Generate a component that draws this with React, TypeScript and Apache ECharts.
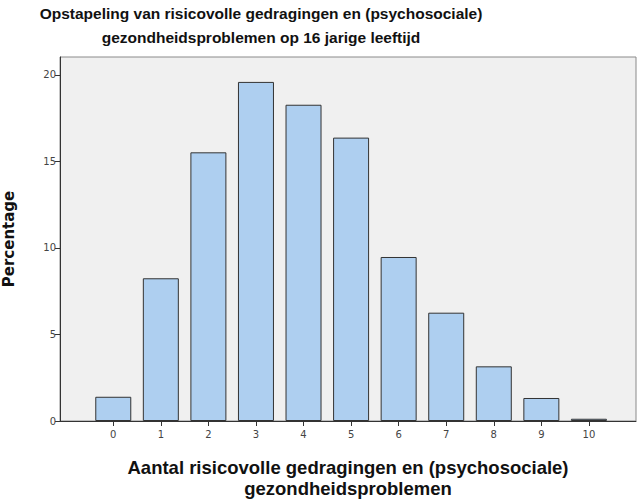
import React, { useEffect, useRef } from "react";
import * as echarts from "echarts";

const categories: number[] = [0, 1, 2, 3, 4, 5, 6, 7, 8, 9, 10];
const percentages: number[] = [1.4, 8.25, 15.53, 19.6, 18.28, 16.38, 9.48, 6.26, 3.16, 1.33, 0.13];
const yTicks: number[] = [0, 5, 10, 15, 20];

const titleText = "Opstapeling van risicovolle gedragingen en (psychosociale)\ngezondheidsproblemen op 16 jarige leeftijd";
const xName = "Aantal risicovolle gedragingen en (psychosociale)\ngezondheidsproblemen";
const yName = "Percentage";

export default function App() {
  const ref = useRef<HTMLDivElement>(null);
  useEffect(() => {
    if (!ref.current) return;
    const chart = echarts.init(ref.current, undefined, { renderer: "svg" });
    const sans = "'Liberation Sans', Arial, sans-serif";
    chart.setOption({
      animation: false,
      backgroundColor: "#ffffff",
      title: {
        text: titleText,
        left: 261,
        top: 1,
        padding: 0,
        textAlign: "center",
        textStyle: {
          fontFamily: sans,
          fontWeight: "bold",
          fontSize: 15.5,
          lineHeight: 24,
          color: "#111",
        },
      },
      grid: {
        left: 60,
        right: 1,
        top: 57,
        bottom: 80,
        show: true,
        outerBoundsMode: "none",
        containLabel: false,
        backgroundColor: "#f0f0f0",
        borderColor: "#8a8a8a",
        borderWidth: 1,
      },
      xAxis: {
        type: "value",
        min: -1.12,
        max: 10.99,
        name: xName,
        nameLocation: "middle",
        nameGap: 36,
        nameTextStyle: {
          fontFamily: sans,
          fontWeight: "bold",
          fontSize: 18.5,
          lineHeight: 21,
          color: "#111",
        },
        axisLine: { show: true, onZero: false, lineStyle: { color: "#333", width: 1 } },
        axisTick: { show: true, length: 5, customValues: categories, lineStyle: { color: "#333" } },
        axisLabel: {
          customValues: categories,
          fontFamily: "'DejaVu Sans', sans-serif",
          fontSize: 10,
          color: "#444",
          margin: 8,
        },
        splitLine: { show: false },
      },
      yAxis: {
        type: "value",
        min: 0,
        max: 21.04,
        name: yName,
        nameLocation: "middle",
        nameGap: 44,
        nameTextStyle: {
          fontFamily: "'DejaVu Sans', sans-serif",
          fontWeight: "bold",
          fontSize: 15,
          color: "#111",
        },
        axisLine: { show: true, onZero: false, lineStyle: { color: "#333", width: 1 } },
        axisTick: { show: true, length: 5, customValues: yTicks, lineStyle: { color: "#333" } },
        axisLabel: {
          customValues: yTicks,
          fontFamily: "'DejaVu Sans', sans-serif",
          fontSize: 10,
          color: "#444",
          margin: 4,
        },
        splitLine: { show: false },
      },
      series: [
        {
          type: "bar",
          data: categories.map((c, i) => [c, percentages[i]]),
          barWidth: 36,
          itemStyle: {
            color: "#aecff0",
            borderColor: "#333",
            borderWidth: 1,
          },
        },
      ],
    });
    return () => chart.dispose();
  }, []);
  return (
    <div
      ref={ref}
      style={{ position: "absolute", left: 0, top: 0, width: 637, height: 501 }}
    />
  );
}
